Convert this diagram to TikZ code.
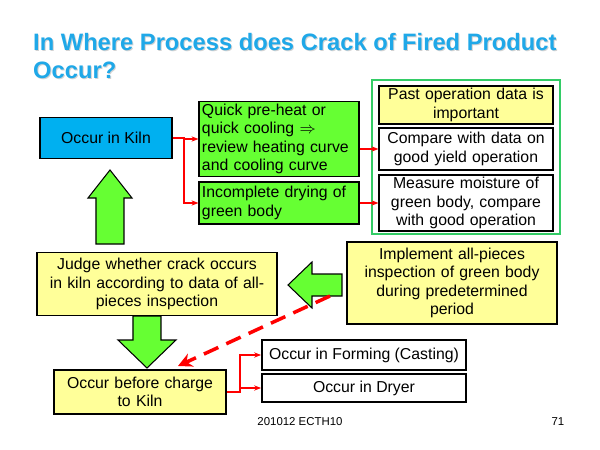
\documentclass[tikz,border=0pt]{standalone}
\usepackage{fontspec}
\setmainfont{Liberation Sans}
\usepackage{amssymb}
\usetikzlibrary{arrows.meta, positioning, calc}
\definecolor{kilnblue}{HTML}{00B0F0}
\definecolor{boxgreen}{HTML}{66FF33}
\definecolor{boxyellow}{HTML}{FFFF99}
\definecolor{titleblue}{HTML}{1FA8E8}
\definecolor{framegreen}{HTML}{33CC66}
\tikzset{
  box/.style={draw=black, line width=1pt, font=\fontsize{9}{10.4}\selectfont, inner sep=1.5pt},
  redarrow/.style={draw=red, line width=0.6pt, -{Stealth[length=4pt]}},
  bigarrow/.style={fill=boxgreen, draw=black, line width=0.6pt}
}
\begin{document}
\begin{tikzpicture}[x=0.02cm, y=-0.02cm]
        \useasboundingbox (0,0) rectangle (600,450);
        \node[anchor=west, align=left, font=\bfseries\fontsize{13.5}{16}\selectfont, text=gray!35] at (28,57) {In Where Process does Crack of Fired Product\\Occur?};
        \node[anchor=west, align=left, font=\bfseries\fontsize{13.5}{16}\selectfont, text=titleblue] (title) at (27,56) {In Where Process does Crack of Fired Product\\Occur?};
        % kiln branch
        \node[box, fill=kilnblue, minimum width=132*0.02cm, minimum height=41*0.02cm] (kiln) at (106,138) {Occur in Kiln};
        \node[box, fill=boxgreen, align=left, text width=154*0.02cm, minimum height=74*0.02cm] (heat) at (279,139) {Quick pre-heat or\\quick cooling $\Rightarrow$\\review heating curve\\and cooling curve};
        \node[box, fill=boxgreen, align=left, text width=154*0.02cm, minimum height=42*0.02cm] (dry) at (279,203) {Incomplete drying of\\green body};
        \draw[framegreen, line width=0.8pt] (372,80) rectangle (560,234);
        \node[box, fill=boxyellow, align=center, text width=168*0.02cm, minimum height=38*0.02cm] (past) at (466,105) {Past operation data is\\important};
        \node[box, fill=white, align=center, text width=168*0.02cm, minimum height=42*0.02cm] (compare) at (466,149) {Compare with data on\\good yield operation};
        \node[box, fill=white, align=center, text width=168*0.02cm, minimum height=54*0.02cm] (moist) at (466,203) {Measure moisture of\\green body, compare\\with good operation};
        \coordinate (kb) at (184,138);
        \draw[redarrow] (kiln.east) -- (kb) |- (heat.west);
        \draw[redarrow] (kb) |- (dry.west);
        \draw[redarrow] (heat.east |- compare.west) -- (compare.west);
        \draw[redarrow] (dry.east) -- (moist.west |- dry.east);
        % inspection
        \node[box, fill=boxyellow, align=center, text width=234*0.02cm, minimum height=63*0.02cm] (judge) at (157,284) {Judge whether crack occurs\\in kiln according to data of all-\\pieces inspection};
        \node[box, fill=boxyellow, align=center, text width=204*0.02cm, minimum height=82*0.02cm] (implement) at (452,283) {Implement all-pieces\\inspection of green body\\during predetermined\\period};
        \draw[bigarrow] (96,244) -- (96,198) -- (88,198) -- (110,170) -- (132,198) -- (124,198) -- (124,244) -- cycle;
        \draw[bigarrow] (342,274) -- (312,274) -- (312,262) -- (288,285) -- (312,308) -- (312,296) -- (342,296) -- cycle;
        \draw[bigarrow] (133,316) -- (161,316) -- (161,340) -- (176,340) -- (147,368) -- (118,340) -- (133,340) -- cycle;
        % before charge
        \node[box, fill=boxyellow, align=center, text width=167*0.02cm, minimum height=44*0.02cm] (before) at (140,392) {Occur before charge\\to Kiln};
        \node[box, fill=white, minimum width=204*0.02cm, minimum height=30*0.02cm] (forming) at (364,355) {Occur in Forming (Casting)};
        \node[box, fill=white, minimum width=204*0.02cm, minimum height=28*0.02cm] (dryer) at (364,388) {Occur in Dryer};
        \coordinate (bb) at (240,392);
        \draw[redarrow] (before.east |- bb) -- (bb) |- (forming.west);
        \draw[redarrow] (bb) |- (dryer.west);
        \coordinate (ds) at (330,296);
        \coordinate (de) at (178,366);
        \draw[red, line width=2pt, dash pattern=on 9pt off 5pt, -{Stealth[length=8pt,width=8pt]}] (ds) -- (de);
        % footer
        \node[font=\fontsize{6.5}{8}\selectfont] (foot) at (300,422) {201012 ECTH10};
        \node[font=\fontsize{6.5}{8}\selectfont] (page) at (558,422) {71};
\end{tikzpicture}
\end{document}
